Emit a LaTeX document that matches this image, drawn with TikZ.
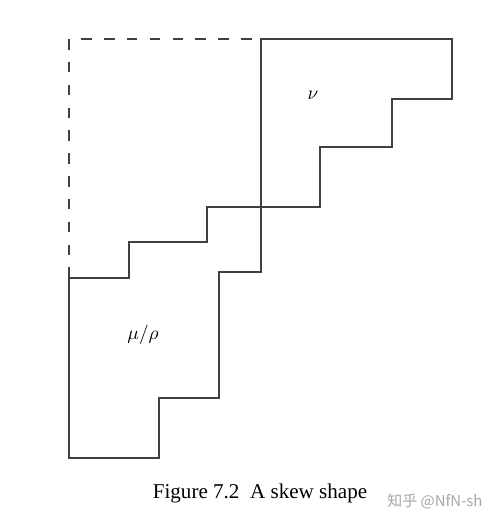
\documentclass[tikz,border=0pt]{standalone}
\usepackage{fontspec}
\setmainfont{Liberation Serif}
\newfontfamily\cjkfont{Noto Sans CJK SC}
\usepackage{tikz}
\usetikzlibrary{calc}
\tikzset{
    edge/.style={line width=0.6pt, draw=black!75},
    ghost/.style={edge, dash pattern=on 6pt off 7pt},
    shapelabel/.style={font=\fontsize{11}{13}\selectfont}
}

\begin{document}
\begin{tikzpicture}[x=0.02cm,y=-0.02cm]
\useasboundingbox (0,0) rectangle (499,529);
\def\top{39}      % top row of the diagram
\def\lft{69}      % left column of the diagram
\def\mid{261}     % column where nu starts
% removed part rho
\draw[ghost] (\lft,278)--(\lft,\top)--(\mid,\top);
% outer shape nu
\draw[edge] (\mid,\top)--(452,\top)--(452,99)-|(392,147)-|(320,207)--(207,207)
    |-(129,242)|-(\lft,278)--(\lft,458)-|(159,398)-|(219,272)-|(\mid,\top)--cycle;
% labels
\node[shapelabel] (nu) at (313,95) {$\nu$};
\node[shapelabel] (murho) at (143,335) {$\mu/\rho$};
% caption
\node[font=\fontsize{12}{14}\selectfont] (caption) at (260,493) {Figure 7.2\ \ A skew shape};
\node[font=\cjkfont\fontsize{8.5}{10}\selectfont, text=black!35] (mark) at (435,502) {知乎 @NfN-sh};
\end{tikzpicture}
\end{document}
